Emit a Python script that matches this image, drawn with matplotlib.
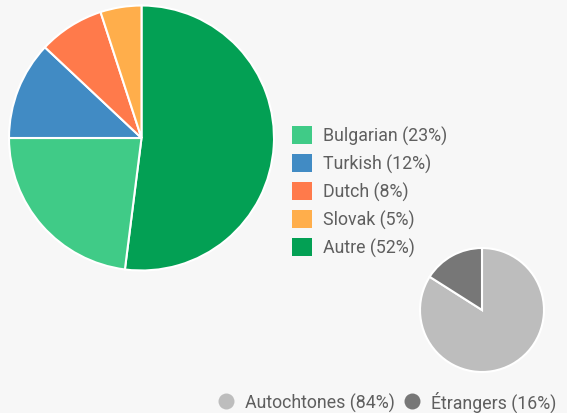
import matplotlib.pyplot as plt
from matplotlib.patches import Patch
from matplotlib.lines import Line2D

# origine des étrangers (%)
pays = ["Bulgarian", "Turkish", "Dutch", "Slovak", "Autre"]
parts = [23, 12, 8, 5, 52]
couleurs = ["#40cb87", "#418bc4", "#ff7a4b", "#ffae4b", "#03a054"]

# population autochtone / étrangère (%)
groupes = ["Autochtones", "Étrangers"]
parts_pop = [84, 16]
couleurs_pop = ["#bdbdbd", "#777777"]

fond = "#f7f7f7"
gris_texte = "#5f5f5f"
plt.rcParams["font.family"] = ["Roboto", "DejaVu Sans"]

W, H = 567, 414
fig = plt.figure(figsize=(W / 100, H / 100), dpi=100, facecolor=fond)
ax = fig.add_axes([0, 0, 1, 1])
ax.set_facecolor(fond)

# grand camembert : "Autre" part du haut, sens horaire
ordre = [4, 0, 1, 2, 3]
ax.pie([parts[i] for i in ordre], colors=[couleurs[i] for i in ordre],
       startangle=90, counterclock=False, center=(141.5, H - 139),
       radius=132.5, frame=True,
       wedgeprops=dict(edgecolor="white", linewidth=1.5))

# petit camembert
ax.pie(parts_pop, colors=couleurs_pop, startangle=90, counterclock=False,
       center=(482, H - 311), radius=62, frame=True,
       wedgeprops=dict(edgecolor="white", linewidth=1.5))

ax.set_xlim(0, W)
ax.set_ylim(0, H)
ax.set_aspect("equal")
ax.axis("off")

taille = 12.8

# légende du grand camembert
poignees = [Patch(facecolor=c, edgecolor="none") for c in couleurs]
labels = [f"{p} ({v}%)" for p, v in zip(pays, parts)]
leg1 = ax.legend(poignees, labels, loc="upper left",
                 bbox_to_anchor=(292 / W, 1 - 127 / H), bbox_transform=fig.transFigure,
                 frameon=False, borderpad=0, borderaxespad=0,
                 handlelength=1.12, handleheight=1.12, handletextpad=0.65,
                 labelspacing=0.5, prop=dict(size=taille), labelcolor=gris_texte)
ax.add_artist(leg1)

# légende du petit camembert
poignees2 = [Line2D([], [], linestyle="none", marker="o", markersize=11.5,
                    markerfacecolor=c, markeredgecolor="none") for c in couleurs_pop]
labels2 = [f"{g} ({v}%)" for g, v in zip(groupes, parts_pop)]
ax.legend(poignees2, labels2, loc="center left", ncol=2,
          bbox_to_anchor=(219 / W, 1 - 402 / H), bbox_transform=fig.transFigure,
          frameon=False, borderpad=0, borderaxespad=0,
          handlelength=0.8, handletextpad=0.67, columnspacing=0.55,
          prop=dict(size=taille), labelcolor=gris_texte)

fig.savefig("out.png", dpi=100, facecolor=fond)
